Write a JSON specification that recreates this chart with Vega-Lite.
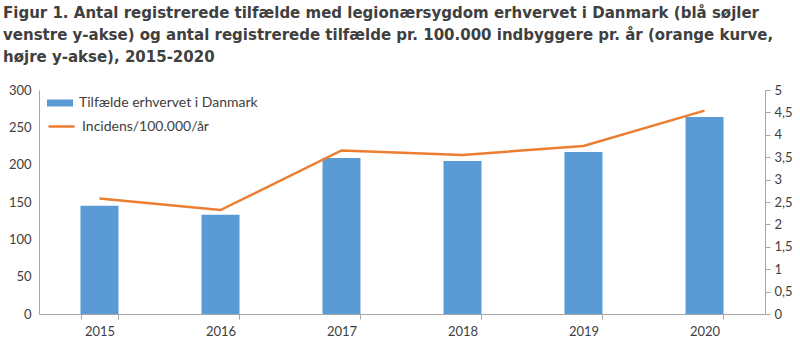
{
  "$schema": "https://vega.github.io/schema/vega-lite/v6.json",
  "width": 726,
  "height": 224,
  "autosize": {"type": "none"},
  "padding": {"left": 39, "top": 90, "right": 35, "bottom": 30},
  "background": "white",
  "title": {
    "text": [
      "Figur 1. Antal registrerede tilfælde med legionærsygdom erhvervet i Danmark (blå søjler",
      "venstre y-akse) og antal registrerede tilfælde pr. 100.000 indbyggere pr. år (orange kurve,",
      "højre y-akse), 2015-2020"
    ],
    "anchor": "start",
    "frame": "group",
    "dx": -36,
    "offset": 19,
    "font": "DejaVu Sans",
    "fontSize": 15,
    "fontWeight": "bold",
    "lineHeight": 22,
    "color": "#404040"
  },
  "data": {
    "values": [
      {"year": "2015", "cases": 145, "incidence": 2.58},
      {"year": "2016", "cases": 133, "incidence": 2.32},
      {"year": "2017", "cases": 209, "incidence": 3.65},
      {"year": "2018", "cases": 205, "incidence": 3.55},
      {"year": "2019", "cases": 217, "incidence": 3.75},
      {"year": "2020", "cases": 264, "incidence": 4.54}
    ]
  },
  "encoding": {
    "x": {
      "field": "year",
      "type": "nominal",
      "scale": {"paddingInner": 0.686, "paddingOuter": 0.343},
      "axis": {
        "title": null,
        "labelAngle": 0,
        "tickBand": "extent",
        "tickSize": 5,
        "labelPadding": 6,
        "domainColor": "#a6a6a6",
        "tickColor": "#a6a6a6",
        "grid": false
      }
    }
  },
  "layer": [
    {
      "mark": {"type": "bar", "color": "#5B9BD5"},
      "encoding": {
        "y": {
          "field": "cases",
          "type": "quantitative",
          "scale": {"domain": [0, 300], "nice": false},
          "axis": {
            "title": null,
            "orient": "left",
            "values": [0, 50, 100, 150, 200, 250, 300],
            "grid": false,
            "ticks": false,
            "labelPadding": 8,
            "domainColor": "#a6a6a6"
          }
        },
        "color": {
          "datum": "Tilfælde erhvervet i Danmark",
          "type": "nominal",
          "scale": {"range": ["#5B9BD5"]},
          "legend": {
            "title": null,
            "orient": "none",
            "legendX": 8,
            "legendY": 0,
            "symbolType": "M-1,-0.27L1,-0.27L1,0.27L-1,0.27Z",
            "symbolSize": 676,
            "symbolStrokeWidth": 0,
            "labelOffset": 6,
            "padding": 0
          }
        }
      }
    },
    {
      "mark": {"type": "line", "color": "#ED7D31", "strokeWidth": 2.5},
      "encoding": {
        "y": {
          "field": "incidence",
          "type": "quantitative",
          "scale": {"domain": [0, 5], "nice": false},
          "axis": {
            "title": null,
            "orient": "right",
            "values": [0, 0.5, 1, 1.5, 2, 2.5, 3, 3.5, 4, 4.5, 5],
            "labelExpr": "replace(format(datum.value, '~g'), '.', ',')",
            "grid": false,
            "tickSize": 5,
            "labelPadding": 4,
            "domainColor": "#a6a6a6",
            "tickColor": "#a6a6a6"
          }
        },
        "stroke": {
          "datum": "Incidens/100.000/år",
          "type": "nominal",
          "scale": {"range": ["#ED7D31"]},
          "legend": {
            "title": null,
            "orient": "none",
            "legendX": 8,
            "legendY": 22,
            "symbolType": "stroke",
            "symbolSize": 676,
            "symbolStrokeWidth": 2.5,
            "labelOffset": 6,
            "padding": 0
          }
        }
      }
    }
  ],
  "resolve": {"scale": {"y": "independent"}},
  "config": {
    "view": {"stroke": null},
    "font": "Lato",
    "axis": {
      "labelFont": "Lato",
      "labelFontSize": 13,
      "labelColor": "#404040"
    },
    "legend": {
      "labelFont": "Lato",
      "labelFontSize": 14,
      "labelColor": "#404040",
      "labelLimit": 400
    }
  }
}
